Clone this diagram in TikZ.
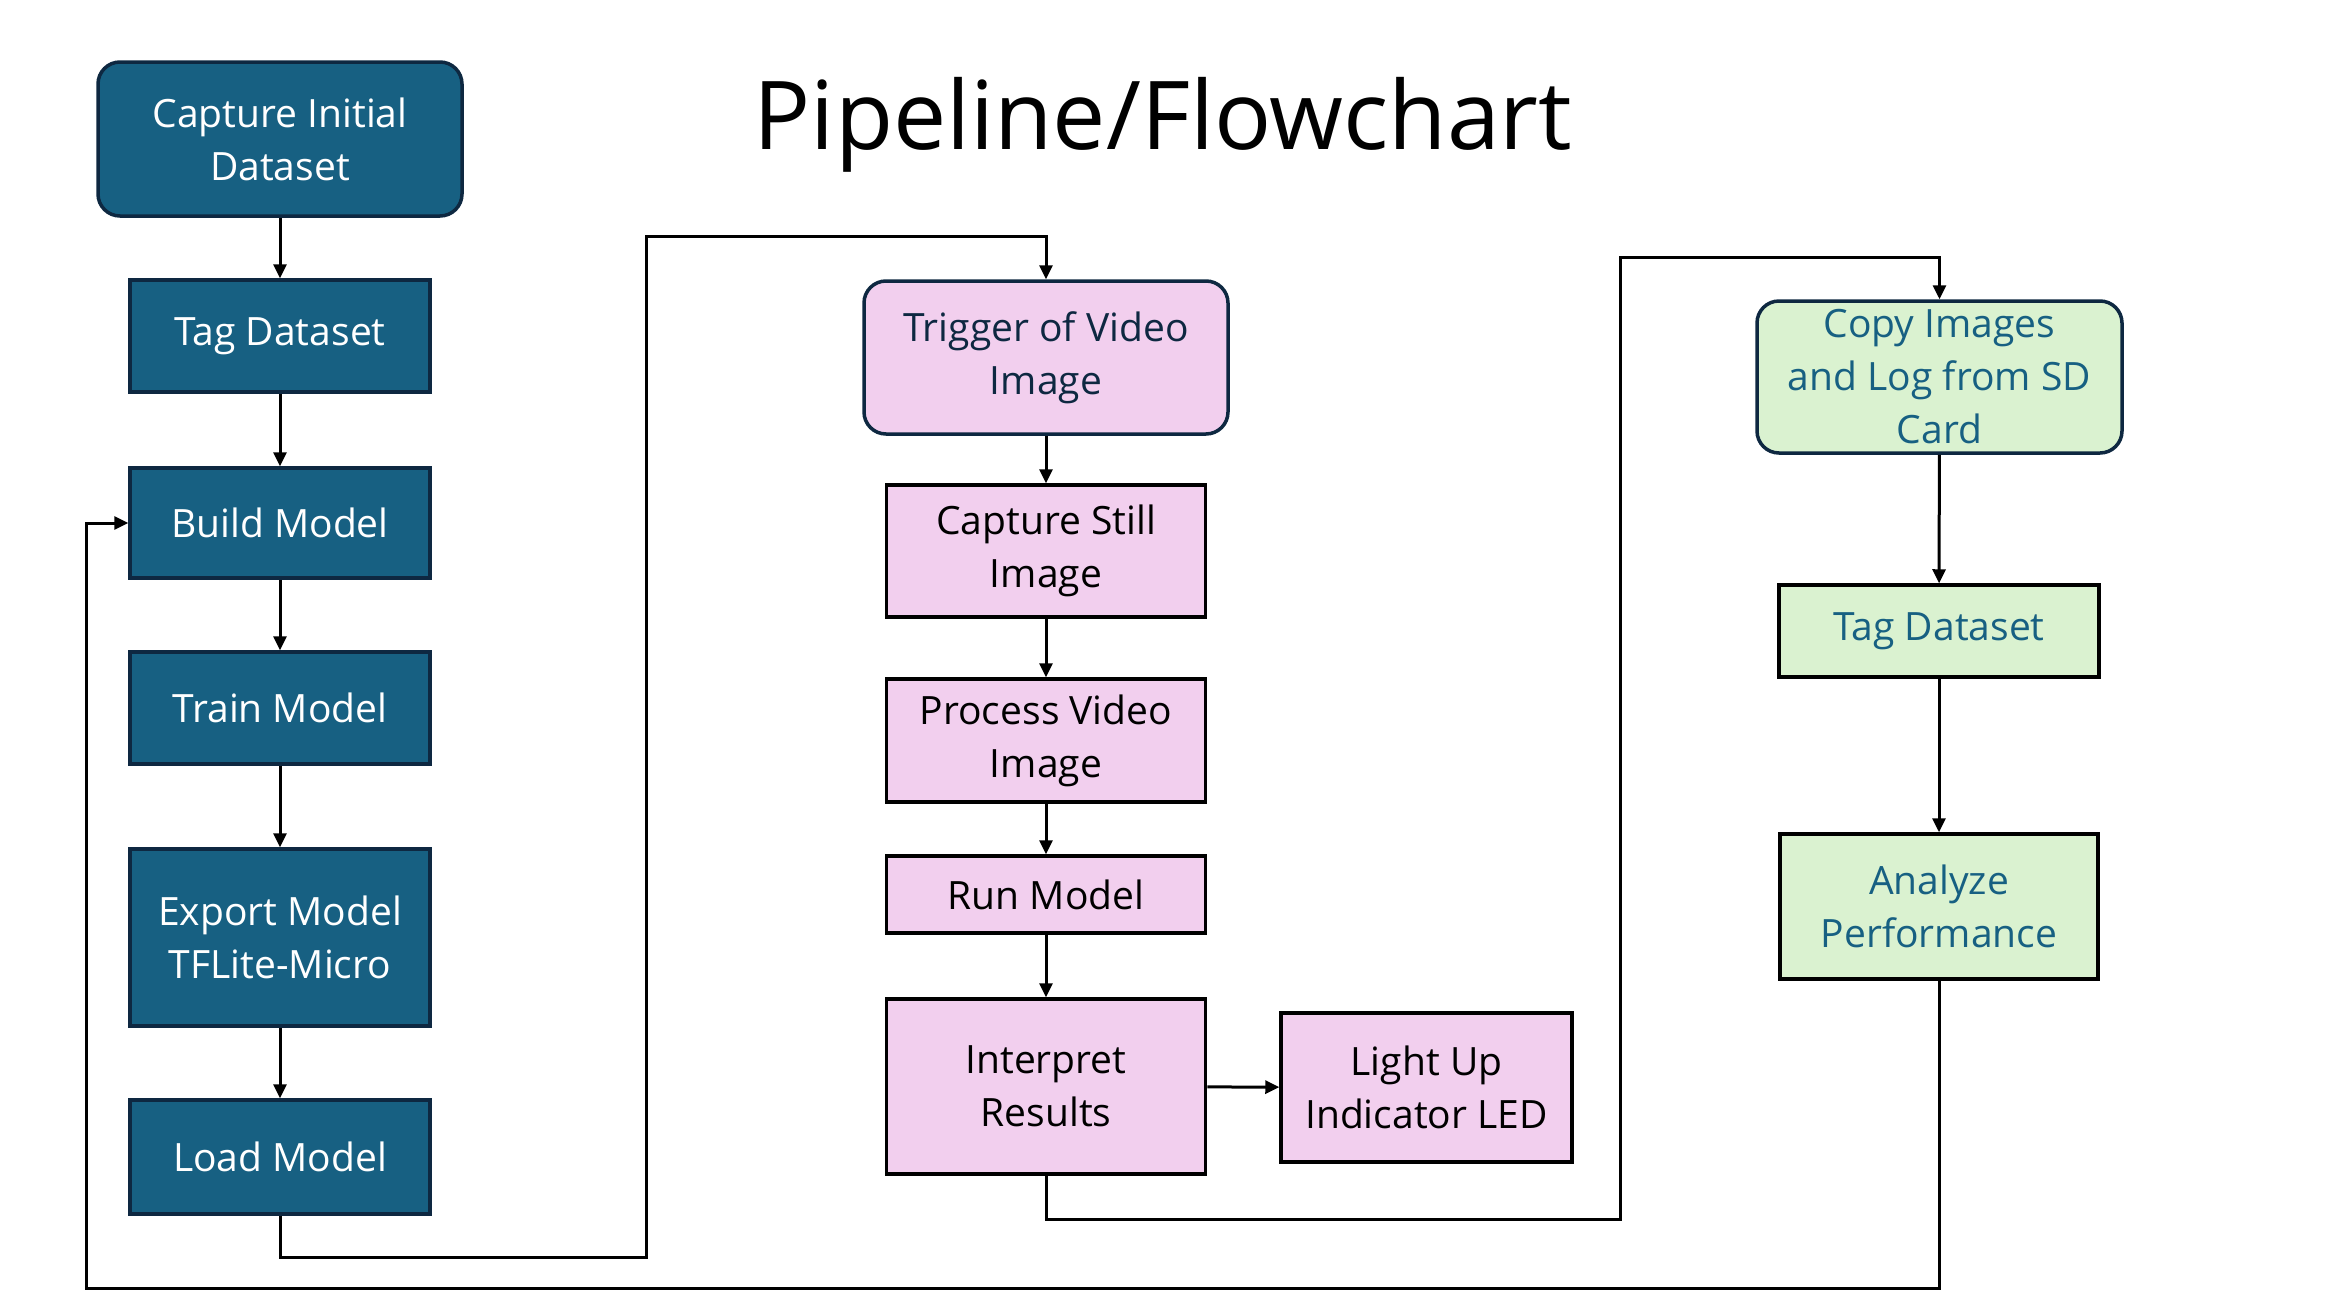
\documentclass[tikz,border=0pt]{standalone}
\usepackage{fontspec}
\setmainfont{Open Sans}
\usetikzlibrary{arrows.meta}
\definecolor{teal}{HTML}{176082}
\definecolor{navy}{HTML}{0E2841}
\definecolor{pinkfill}{HTML}{F2CFEE}
\definecolor{greenfill}{HTML}{DAF2D0}
\tikzset{
  box/.style={draw, rectangle, line width=3.5pt, align=center, inner sep=0pt,
    font=\fontsize{39}{53}\selectfont},
  tealbox/.style={box, fill=teal, draw=navy, text=white},
  pinkbox/.style={box, fill=pinkfill, draw=black, text=black},
  greenbox/.style={box, fill=greenfill, draw=black, text=teal},
  rnd/.style={rounded corners=22pt},
  conn/.style={line width=3pt, -{Triangle[length=14pt,width=13pt]}},
}
\begin{document}
\begin{tikzpicture}[x=1pt,y=-1pt]
\useasboundingbox[fill=white] (0,0) rectangle (2330,1304);
\node[font=\fontsize{95}{105}\selectfont] (title) at (1163,125) {Pipeline/Flowchart};
% left column
\node[tealbox, rnd, minimum width=364pt, minimum height=154pt] (cap) at (280,139) {Capture Initial\\Dataset};
\node[tealbox, minimum width=300pt, minimum height=112pt] (tag1) at (280,336) {Tag Dataset};
\node[tealbox, minimum width=300pt, minimum height=110pt] (build) at (280,523) {Build Model};
\node[tealbox, minimum width=300pt, minimum height=112pt] (train) at (280,708) {Train Model};
\node[tealbox, minimum width=300pt, minimum height=177pt] (export) at (280,937.5) {Export Model\\TFLite-Micro};
\node[tealbox, minimum width=300pt, minimum height=114pt] (load) at (280,1157) {Load Model};
% middle column
\node[pinkbox, rnd, draw=navy, text=navy, minimum width=364pt, minimum height=153pt] (trig) at (1046,357.5) {Trigger of Video\\Image};
\node[pinkbox, minimum width=319pt, minimum height=132pt] (still) at (1046,551) {Capture Still\\Image};
\node[pinkbox, minimum width=319pt, minimum height=123pt] (proc) at (1046,740.5) {Process Video\\Image};
\node[pinkbox, minimum width=319pt, minimum height=77pt] (run) at (1046,894.5) {Run Model};
\node[pinkbox, minimum width=319pt, minimum height=175pt] (interp) at (1046,1086.5) {Interpret\\Results};
\node[pinkbox, minimum width=291pt, minimum height=149pt] (led) at (1426.5,1087.5) {Light Up\\Indicator LED};
% right column
\node[greenbox, rnd, draw=navy, minimum width=365pt, minimum height=152pt] (copy) at (1939.5,377) {Copy Images\\and Log from SD\\Card};
\node[greenbox, minimum width=320pt, minimum height=92pt] (tag2) at (1939,631) {Tag Dataset};
\node[greenbox, minimum width=318pt, minimum height=145pt] (anal) at (1939,906.5) {Analyze\\Performance};
% coordinates
\coordinate (a1) at (280,1257);
\coordinate (a2) at (646,1257);
\coordinate (a3) at (646,236);
\coordinate (a4) at (1046,236);
\coordinate (b1) at (1046,1219);
\coordinate (b2) at (1620,1219);
\coordinate (b3) at (1620,257);
\coordinate (b4) at (1939.5,257);
\coordinate (c1) at (1939,1288);
\coordinate (c2) at (86,1288);
\coordinate (c3) at (86,523);
% connectors
\draw[conn] (cap) -- (tag1);
\draw[conn] (tag1) -- (build);
\draw[conn] (build) -- (train);
\draw[conn] (train) -- (export);
\draw[conn] (export) -- (load);
\draw[conn] (trig) -- (still);
\draw[conn] (still) -- (proc);
\draw[conn] (proc) -- (run);
\draw[conn] (run) -- (interp);
\draw[conn] (interp) -- (led);
\draw[conn] (copy) -- (tag2);
\draw[conn] (tag2) -- (anal);
\draw[conn] (load.south) -- (a1) -- (a2) -- (a3) -- (a4) -- (trig.north);
\draw[conn] (interp.south) -- (b1) -- (b2) -- (b3) -- (b4) -- (copy.north);
\draw[conn] (anal.south) -- (c1) -- (c2) -- (c3) -- (build.west);
\end{tikzpicture}
\end{document}
